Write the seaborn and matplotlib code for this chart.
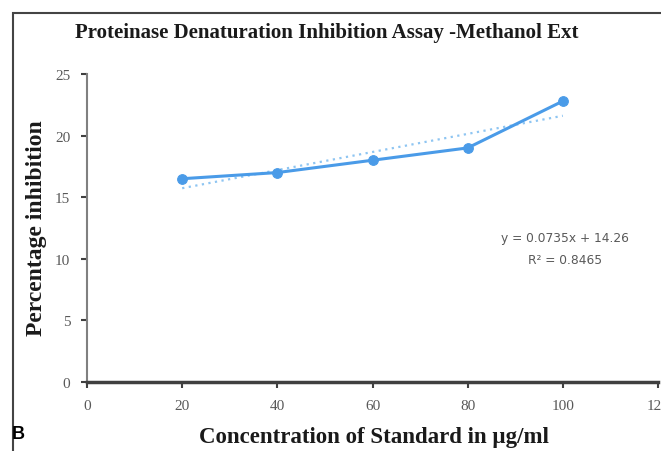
import matplotlib
matplotlib.use("Agg")
import matplotlib.pyplot as plt
import seaborn as sns
import pandas as pd
import numpy as np
from matplotlib.patches import Rectangle

# Data
concentration = [20, 40, 60, 80, 100]
inhibition = [16.5, 17.0, 18.0, 19.0, 22.8]
slope = 0.0735
intercept = 14.26
r_squared = 0.8465
x_ticks = [0, 20, 40, 60, 80, 100, 120]
y_ticks = [0, 5, 10, 15, 20, 25]

sns.set_theme(style="white")
plt.rcParams['font.family'] = ['Liberation Serif', 'DejaVu Serif']

df = pd.DataFrame({"Concentration": concentration, "Inhibition": inhibition})

fig = plt.figure(figsize=(6.61, 4.52), dpi=100)
ax = fig.add_axes([87/661, 1-383/452, (658-87)/661, (383-75)/452])

line_color = "#4A9BE8"
trend_color = "#8EC5F2"

# trendline
tx = np.array([concentration[0], concentration[-1]])
ax.plot(tx, slope*tx + intercept, linestyle=(0, (1, 2)), color=trend_color, lw=1.6, zorder=2)

sns.lineplot(data=df, x="Concentration", y="Inhibition", ax=ax, color=line_color,
             lw=2.2, marker="o", markersize=7, markeredgecolor=line_color, zorder=3)

ax.set_xlim(0, 120)
ax.set_ylim(0, 25)
ax.set_xticks(x_ticks)
ax.set_yticks(y_ticks)
ax.set_xticklabels([str(t) for t in x_ticks], color="#595959", fontsize=11)
ax.set_yticklabels([str(t) for t in y_ticks], color="#595959", fontsize=11)
ax.tick_params(axis="both", which="both", length=4, width=1.5, color="#404040", pad=8, direction="out",
               bottom=True, left=True)
for s in ["top", "right"]:
    ax.spines[s].set_visible(False)
ax.spines["left"].set_color("#808080")
ax.spines["left"].set_linewidth(1.5)
ax.spines["bottom"].set_color("#404040")
ax.spines["bottom"].set_linewidth(2.5)
ax.set_xlabel("")
ax.set_ylabel("")
ax.set_facecolor("white")

fig.text(565/661, 1-239/452, f"y = {slope}x + {intercept}", ha="center", va="center",
         fontsize=8.8, color="#595959", family=["DejaVu Sans"])
fig.text(565/661, 1-260/452, f"R² = {r_squared}", ha="center", va="center",
         fontsize=8.8, color="#595959", family=["DejaVu Sans"])

fig.text(327/661, 1-33/452, "Proteinase Denaturation Inhibition Assay -Methanol Ext",
         ha="center", va="center", fontsize=15, fontweight="bold", color="#1a1a1a")
fig.text(374/661, 1-438/452, "Concentration of Standard in µg/ml",
         ha="center", va="center", fontsize=16.5, fontweight="bold", color="#1a1a1a")
fig.text(37/661, 1-228/452, "Percentage inhibition", rotation=90,
         ha="center", va="center", fontsize=17, fontweight="bold", color="#1a1a1a")
fig.text(12/661, 1-435/452, "B", ha="left", va="center", fontsize=13, fontweight="bold",
         color="#000000", family=["Liberation Sans", "DejaVu Sans"])

# border
fig.patches.append(Rectangle((13/661, -0.1), 1.2, 1-14/452+0.1, transform=fig.transFigure,
                             fill=False, edgecolor="#444444", lw=1.5, zorder=0))

fig.savefig("out.png", dpi=100, facecolor="white")
